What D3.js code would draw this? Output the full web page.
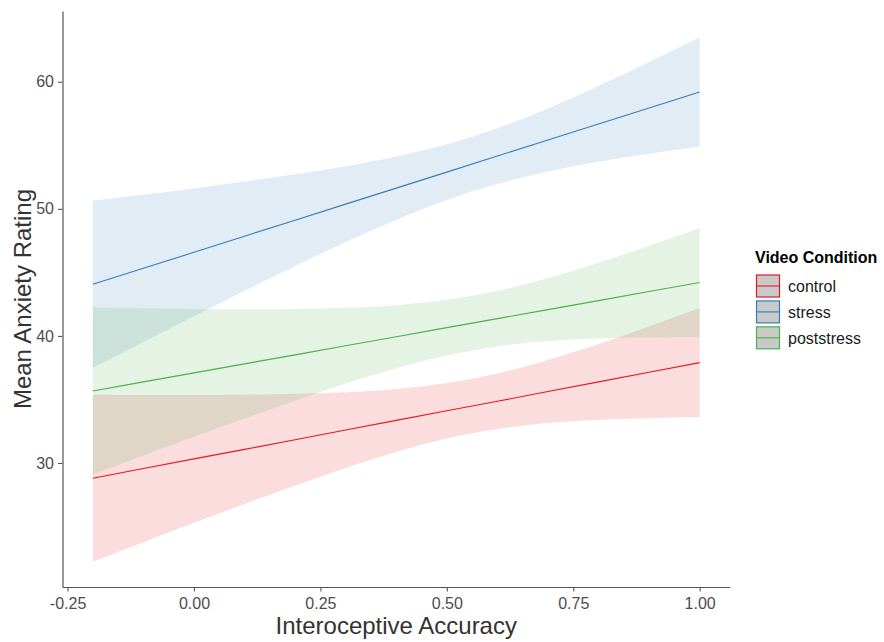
<!DOCTYPE html>
<html>
<head>
<meta charset="utf-8">
<script src="https://cdn.jsdelivr.net/npm/d3@7"></script>
<style>
  html, body { margin: 0; padding: 0; background: #fff; }
  svg { display: block; font-family: "Liberation Sans", Arial, sans-serif; }
</style>
</head>
<body>
<svg id="chart" width="884" height="642"></svg>
<script>
// Interoceptive accuracy grid and the linear-fit summaries per video condition
const accuracy = [-0.2, -0.1, 0.0, 0.1, 0.2, 0.3, 0.4, 0.5, 0.6, 0.7, 0.8, 0.9, 1.0];

const conditions = ["control", "stress", "poststress"];
const conditionColors = ["#E41A1C", "#377EB8", "#4DAF4A"];

const controlFit   = [28.80, 29.56, 30.32, 31.07, 31.83, 32.59, 33.35, 34.11, 34.86, 35.62, 36.38, 37.14, 37.90];
const controlLower = [22.23, 23.77, 25.29, 26.77, 28.22, 29.61, 30.87, 31.92, 32.67, 33.14, 33.40, 33.53, 33.60];
const controlUpper = [35.37, 35.35, 35.35, 35.37, 35.44, 35.57, 35.83, 36.30, 37.05, 38.10, 39.36, 40.75, 42.20];

const stressFit   = [44.06, 45.32, 46.58, 47.85, 49.11, 50.37, 51.63, 52.89, 54.16, 55.42, 56.68, 57.94, 59.20];
const stressLower = [37.49, 39.53, 41.55, 43.55, 45.50, 47.39, 49.15, 50.70, 51.97, 52.94, 53.70, 54.33, 54.90];
const stressUpper = [50.63, 51.11, 51.61, 52.15, 52.72, 53.35, 54.11, 55.08, 56.35, 57.90, 59.66, 61.55, 63.50];

const poststressFit   = [35.67, 36.38, 37.09, 37.80, 38.51, 39.23, 39.94, 40.65, 41.36, 42.07, 42.78, 43.49, 44.20];
const poststressLower = [29.10, 30.59, 32.06, 33.50, 34.90, 36.25, 37.46, 38.46, 39.17, 39.59, 39.80, 39.88, 39.90];
const poststressUpper = [42.24, 42.17, 42.12, 42.10, 42.12, 42.21, 42.42, 42.84, 43.55, 44.55, 45.76, 47.10, 48.50];

const xTickValues = [-0.25, 0, 0.25, 0.5, 0.75, 1.0];
const xTickLabels = ["-0.25", "0.00", "0.25", "0.50", "0.75", "1.00"];
const yTickValues = [30, 40, 50, 60];
const yTickLabels = ["30", "40", "50", "60"];

const xTitle = "Interoceptive Accuracy";
const yTitle = "Mean Anxiety Rating";
const legendTitle = "Video Condition";

// Assemble one record per condition for drawing
const fits = [controlFit, stressFit, poststressFit];
const lowers = [controlLower, stressLower, poststressLower];
const uppers = [controlUpper, stressUpper, poststressUpper];
const series = conditions.map((name, i) => ({
  name,
  color: conditionColors[i],
  points: accuracy.map((a, j) => ({ x: a, fit: fits[i][j], lo: lowers[i][j], hi: uppers[i][j] }))
}));

const svg = d3.select("#chart");

const panel = { left: 62.5, right: 730, top: 11, bottom: 587 };
const x = d3.scaleLinear().domain([-0.26, 1.06]).range([panel.left, panel.right]);
const y = d3.scaleLinear().domain([20.24, 65.57]).range([panel.bottom, panel.top]);

const band = d3.area()
  .x(d => x(d.x))
  .y0(d => y(d.lo))
  .y1(d => y(d.hi))
  .curve(d3.curveMonotoneX);

const trend = d3.line()
  .x(d => x(d.x))
  .y(d => y(d.fit));

const plot = svg.append("g");
series.forEach(s => {
  plot.append("path")
    .attr("d", band(s.points))
    .attr("fill", s.color)
    .attr("fill-opacity", 0.15)
    .attr("stroke", "none");
  plot.append("path")
    .attr("d", trend(s.points))
    .attr("fill", "none")
    .attr("stroke", s.color)
    .attr("stroke-width", 1.1);
});

// Axes
const axisColor = "#555";
const xAxis = d3.axisBottom(x)
  .tickValues(xTickValues)
  .tickFormat((d, i) => xTickLabels[i])
  .tickSizeInner(4.5)
  .tickSizeOuter(0)
  .tickPadding(6);
const yAxis = d3.axisLeft(y)
  .tickValues(yTickValues)
  .tickFormat((d, i) => yTickLabels[i])
  .tickSizeInner(4.5)
  .tickSizeOuter(0)
  .tickPadding(4);

const gx = svg.append("g").attr("transform", `translate(0,${panel.bottom})`).call(xAxis);
const gy = svg.append("g").attr("transform", `translate(${panel.left},0)`).call(yAxis);

[gx, gy].forEach(g => {
  g.select(".domain").attr("stroke", axisColor).attr("stroke-width", 1.2);
  g.selectAll(".tick line").attr("stroke", axisColor).attr("stroke-width", 1.1);
  g.selectAll(".tick text")
    .attr("fill", "#4D4D4D")
    .style("font-size", "16px")
    .style("font-family", "'Liberation Sans', Arial, sans-serif");
});

// Axis titles
svg.append("text")
  .attr("x", (panel.left + panel.right) / 2)
  .attr("y", 634)
  .attr("text-anchor", "middle")
  .attr("fill", "#333")
  .style("font-size", "24px")
  .text(xTitle);

svg.append("text")
  .attr("transform", `translate(31,${(panel.top + panel.bottom) / 2}) rotate(-90)`)
  .attr("text-anchor", "middle")
  .attr("fill", "#333")
  .style("font-size", "24px")
  .text(yTitle);

// Legend
const legend = svg.append("g").attr("transform", "translate(755,0)");
legend.append("text")
  .attr("x", 0)
  .attr("y", 263)
  .attr("fill", "#000")
  .style("font-size", "16px")
  .style("font-weight", "bold")
  .text(legendTitle);

const keyW = 24, keyH = 23, keyStep = 25.9, keyTop = 274.5;
series.forEach((s, i) => {
  const ky = keyTop + i * keyStep;
  const key = legend.append("g").attr("transform", `translate(1,${ky})`);
  key.append("rect")
    .attr("x", 0.5).attr("y", 0.5)
    .attr("width", keyW - 1).attr("height", keyH - 1)
    .attr("fill", "#C9C9C9")
    .attr("stroke", s.color)
    .attr("stroke-width", 1.2);
  key.append("line")
    .attr("x1", 1).attr("x2", keyW - 1)
    .attr("y1", keyH / 2).attr("y2", keyH / 2)
    .attr("stroke", s.color)
    .attr("stroke-width", 1.1);
  legend.append("text")
    .attr("x", 33)
    .attr("y", ky + keyH / 2 + 6)
    .attr("fill", "#1A1A1A")
    .style("font-size", "16px")
    .text(s.name);
});
</script>
</body>
</html>
